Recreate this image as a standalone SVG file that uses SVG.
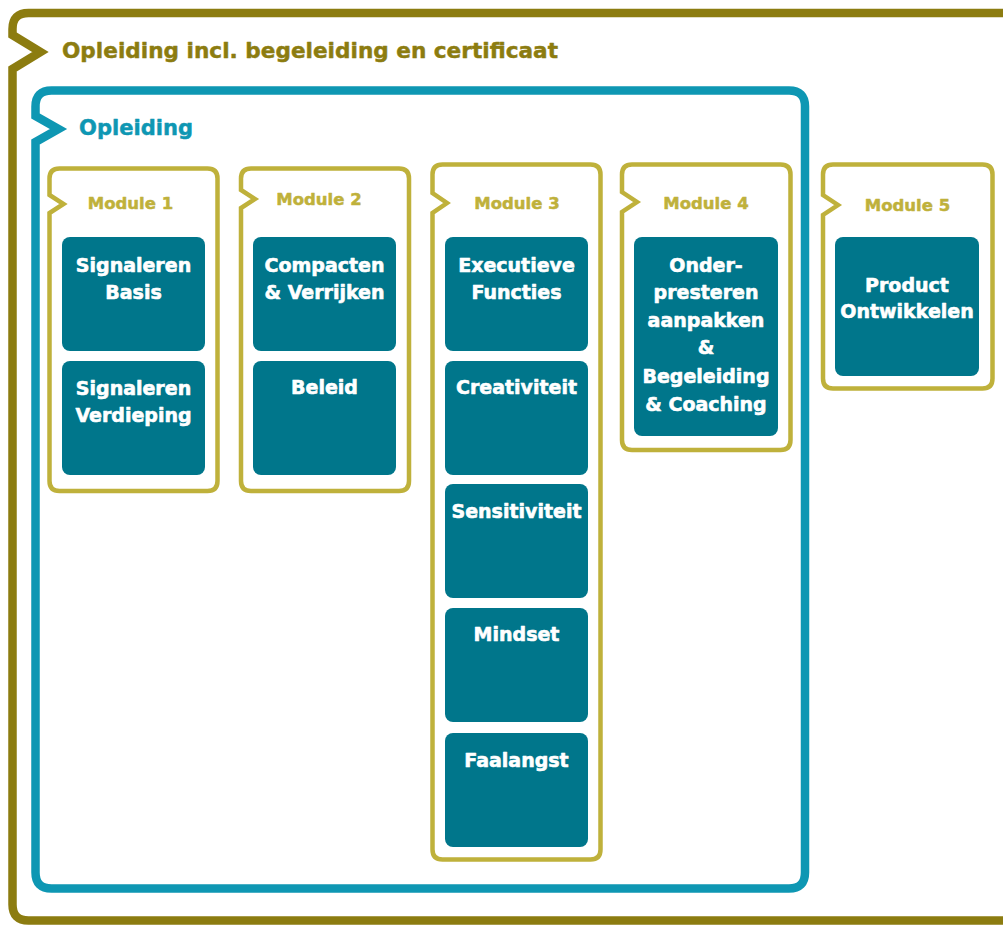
<svg xmlns="http://www.w3.org/2000/svg" width="1003" height="925" viewBox="0 0 1003 925">
<style>
.olive{fill:none;stroke:#8C7C10;stroke-width:8.5;stroke-linejoin:miter}
.teal{fill:none;stroke:#0E97B3;stroke-width:8.5;stroke-linejoin:miter}
.mod{fill:none;stroke:#BFB13B;stroke-width:4.5;stroke-linejoin:miter}
.box{fill:#00768B}
.t{font-family:"DejaVu Sans",sans-serif;font-weight:bold;text-anchor:middle;stroke-linejoin:round}
.bt{fill:#FFFFFF;stroke:#FFFFFF;stroke-width:0.6;font-size:19px}
.mt{fill:#BFB13B;stroke:#BFB13B;stroke-width:0.5;font-size:16.5px}
.h1{fill:#8C7C10;stroke:#8C7C10;stroke-width:0.45;font-size:21.5px;text-anchor:start}
.h2{fill:#0E97B3;stroke:#0E97B3;stroke-width:0.45;font-size:21px;text-anchor:start}
</style>
<rect width="1003" height="925" fill="#FFFFFF"/>
<g id="outer">
<path class="olive" d="M1010 13 H28.5 Q12.5 13 12.5 29 V35 L40.5 52 L12.5 69 V904.5 Q12.5 920.5 28.5 920.5 H1010"/>
<text class="t h1" x="62" y="58" textLength="496" lengthAdjust="spacingAndGlyphs">Opleiding incl. begeleiding en certificaat</text>
</g>
<g id="opleiding">
<path class="teal" d="M51.5 90.5 H789 Q805 90.5 805 106.5 V872.5 Q805 888.5 789 888.5 H51.5 Q35.5 888.5 35.5 872.5 V142 L58.5 129 L35.5 116 V106.5 Q35.5 90.5 51.5 90.5 Z"/>
<text class="t h2" x="79" y="135" textLength="114" lengthAdjust="spacingAndGlyphs">Opleiding</text>
</g>
<g id="module1">
<path class="mod" d="M59.5 168.5 H207.5 Q217.5 168.5 217.5 178.5 V481 Q217.5 491 207.5 491 H59.5 Q49.5 491 49.5 481 V213 L63.5 204 L49.5 195 V178.5 Q49.5 168.5 59.5 168.5 Z"/>
<text class="t mt" x="130.5" y="209">Module 1</text>
</g>
<g id="m1-signaleren-basis">
<rect class="box" x="62" y="237" width="143" height="114" rx="8"/>
<text class="t bt" x="133.5" y="272">Signaleren</text>
<text class="t bt" x="133.5" y="299">Basis</text>
</g>
<g id="m1-signaleren-verdieping">
<rect class="box" x="62" y="361" width="143" height="114" rx="8"/>
<text class="t bt" x="133.5" y="395">Signaleren</text>
<text class="t bt" x="133.5" y="422">Verdieping</text>
</g>
<g id="module2">
<path class="mod" d="M251 168.5 H399 Q409 168.5 409 178.5 V481 Q409 491 399 491 H251 Q241 491 241 481 V208 L255 199 L241 190 V178.5 Q241 168.5 251 168.5 Z"/>
<text class="t mt" x="319" y="205">Module 2</text>
</g>
<g id="m2-compacten">
<rect class="box" x="253" y="237" width="143" height="114" rx="8"/>
<text class="t bt" x="324.5" y="272">Compacten</text>
<text class="t bt" x="324.5" y="299">&amp; Verrijken</text>
</g>
<g id="m2-beleid">
<rect class="box" x="253" y="361" width="143" height="114" rx="8"/>
<text class="t bt" x="324.5" y="394">Beleid</text>
</g>
<g id="module3">
<path class="mod" d="M442.5 164.5 H590.5 Q600.5 164.5 600.5 174.5 V849.5 Q600.5 859.5 590.5 859.5 H442.5 Q432.5 859.5 432.5 849.5 V213 L447 203 L432.5 193 V174.5 Q432.5 164.5 442.5 164.5 Z"/>
<text class="t mt" x="517" y="209">Module 3</text>
</g>
<g id="m3-executieve">
<rect class="box" x="445" y="237" width="143" height="114" rx="8"/>
<text class="t bt" x="516.5" y="272">Executieve</text>
<text class="t bt" x="516.5" y="299">Functies</text>
</g>
<g id="m3-creativiteit">
<rect class="box" x="445" y="361" width="143" height="114" rx="8"/>
<text class="t bt" x="516.5" y="394">Creativiteit</text>
</g>
<g id="m3-sensitiviteit">
<rect class="box" x="445" y="484" width="143" height="114" rx="8"/>
<text class="t bt" x="516.5" y="518">Sensitiviteit</text>
</g>
<g id="m3-mindset">
<rect class="box" x="445" y="608" width="143" height="114" rx="8"/>
<text class="t bt" x="516.5" y="641">Mindset</text>
</g>
<g id="m3-faalangst">
<rect class="box" x="445" y="733" width="143" height="114" rx="8"/>
<text class="t bt" x="516.5" y="767">Faalangst</text>
</g>
<g id="module4">
<path class="mod" d="M632 164.5 H780.5 Q790.5 164.5 790.5 174.5 V440 Q790.5 450 780.5 450 H632 Q622 450 622 440 V212 L637 202 L622 192 V174.5 Q622 164.5 632 164.5 Z"/>
<text class="t mt" x="706" y="209">Module 4</text>
</g>
<g id="m4-onderpresteren">
<rect class="box" x="634" y="237" width="144" height="199" rx="8"/>
<text class="t bt" x="706" y="272">Onder-</text>
<text class="t bt" x="706" y="299">presteren</text>
<text class="t bt" x="706" y="327">aanpakken</text>
<text class="t bt" x="706" y="354">&amp;</text>
<text class="t bt" x="706" y="383">Begeleiding</text>
<text class="t bt" x="706" y="411">&amp; Coaching</text>
</g>
<g id="module5">
<path class="mod" d="M833 164.5 H982.5 Q992.5 164.5 992.5 174.5 V378.5 Q992.5 388.5 982.5 388.5 H833 Q823 388.5 823 378.5 V215 L838 205 L823 195 V174.5 Q823 164.5 833 164.5 Z"/>
<text class="t mt" x="907.5" y="211">Module 5</text>
</g>
<g id="m5-product">
<rect class="box" x="835" y="237" width="144" height="139" rx="8"/>
<text class="t bt" x="907" y="292">Product</text>
<text class="t bt" x="907" y="318">Ontwikkelen</text>
</g>
<g id="connectors"></g>
</svg>
